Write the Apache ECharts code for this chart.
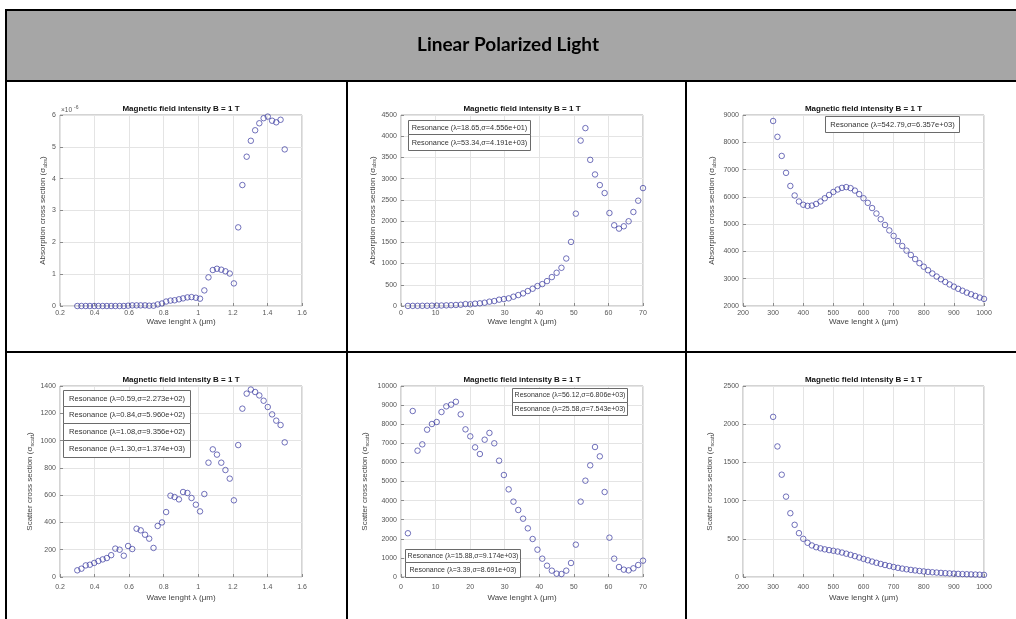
<!DOCTYPE html>
<html>
<head>
<meta charset="utf-8">
<script src="https://cdn.jsdelivr.net/npm/echarts@6/dist/echarts.min.js"></script>
<style>
  html, body { margin: 0; padding: 0; background: #fff; }
  #chart { width: 1016px; height: 619px; }
</style>
</head>
<body>
<div id="chart"></div>
<script>
// ---- wavelength grids ----
// near range, μm
const lambdaNear = [0.300,0.324,0.349,0.373,0.398,0.422,0.447,0.471,0.496,0.520,
  0.545,0.569,0.594,0.618,0.643,0.667,0.692,0.716,0.741,0.765,
  0.790,0.814,0.839,0.863,0.888,0.912,0.937,0.961,0.986,1.010,
  1.035,1.059,1.084,1.108,1.133,1.157,1.182,1.206,1.231,1.255,
  1.280,1.304,1.329,1.353,1.378,1.402,1.427,1.451,1.476,1.500];
// mid range, μm
const lambdaMid = [2.00,3.39,4.78,6.16,7.55,8.94,10.33,11.71,13.10,14.49,
  15.88,17.27,18.65,20.04,21.43,22.82,24.20,25.58,26.98,28.37,
  29.76,31.14,32.53,33.92,35.31,36.69,38.08,39.47,40.86,42.24,
  43.63,45.02,46.41,47.80,49.18,50.57,51.96,53.34,54.73,56.12,
  57.51,58.90,60.29,61.67,63.06,64.45,65.84,67.22,68.61,70.00];
// far range, μm
const lambdaFar = [300.00,314.29,328.57,342.86,357.14,371.43,385.71,400.00,414.29,428.57,
  442.86,457.14,471.43,485.71,500.00,514.29,528.57,542.79,557.14,571.43,
  585.71,600.00,614.29,628.57,642.86,657.14,671.43,685.71,700.00,714.29,
  728.57,742.86,757.14,771.43,785.71,800.00,814.29,828.57,842.86,857.14,
  871.43,885.71,900.00,914.29,928.57,942.86,957.14,971.43,985.71,1000.00];

// ---- absorption cross sections ----
// near range, in units of 1e-6
const absNear = [0.00,0.00,0.00,0.00,0.00,0.00,0.00,0.00,0.00,0.00,
  0.00,0.00,0.01,0.02,0.02,0.02,0.02,0.01,0.01,0.05,
  0.08,0.14,0.17,0.18,0.21,0.24,0.27,0.28,0.26,0.23,
  0.49,0.90,1.13,1.17,1.14,1.09,1.02,0.71,2.47,3.80,
  4.69,5.19,5.52,5.74,5.90,5.95,5.82,5.77,5.85,4.92];
const absMid = [2,3,4,5,6,8,10,12,15,19,
  24,30,45.56,40,55,63,78,102,117,149,
  164,180,219,258,297,352,407,470,516,587,
  681,783,900,1119,1510,2176,3897,4191,3443,3099,
  2849,2661,2191,1902,1823,1878,1996,2215,2481,2778];
const absFar = [8780,8200,7500,6880,6400,6050,5830,5710,5670,5680,
  5740,5830,5950,6070,6180,6270,6330,6357,6320,6230,
  6100,5950,5780,5590,5390,5180,4970,4770,4570,4380,
  4200,4030,3870,3720,3570,3440,3310,3190,3080,2980,
  2880,2790,2710,2630,2560,2490,2430,2370,2310,2260];

// ---- scattering cross sections ----
const scatNear = [49,61,85,90,103,117,129,139,160,208,
  200,156,227.3,205,354,342,310,281,213,374,
  400,476,596.0,586,569,623,616,579,530,481,
  608,838,935.6,897,838,784,721,562,967,1234,
  1344,1374,1356,1331,1292,1246,1192,1146,1114,987];
const scatMid = [2290,8691,6614,6945,7713,8010,8115,8638,8934,9022,
  9174,8516,7730,7364,6788,6439,7189,7543,7000,6090,
  5340,4589,3944,3508,3054,2548,1990,1431,960,593,
  332,175,157,332,733,1693,3944,5043,5846,6806,
  6317,4450,2059,960,523,384,349,454,628,855];
const scatFar = [2096,1709,1339,1052,835,683,574,500,448,413,
  390,375,362,352,343,333,320,305,290,273,
  255,237,219,202,186,171,157,144,131,120,
  110,101,93,86,79,73,67,62,58,54,
  50,47,44,41,38,36,34,32,30,28];

// indices of the resonances annotated on each panel (in box order)
const resAbsMid = [12, 37];
const resAbsFar = [17];
const resScatNear = [12, 22, 32, 41];
const resScatMidTop = [39, 17];
const resScatMidBottom = [10, 1];

// ---- axis ranges / ticks ----
const axNear = [0.2, 1.6, 0.2];
const axMid = [0, 70, 10];
const axFar = [200, 1000, 100];

// ---- helpers ----
function sci(v) {
  const e = Math.floor(Math.log10(Math.abs(v)));
  const m = (v / Math.pow(10, e)).toFixed(3);
  return m + 'e' + (e < 0 ? '-' : '+') + String(Math.abs(e)).padStart(2, '0');
}
function resText(xs, ys, i) {
  return 'Resonance (λ=' + xs[i].toFixed(2) + ',σ=' + sci(ys[i]) + ')';
}
function zip(xs, ys) { return xs.map((x, i) => [x, ys[i]]); }

const FONT = 'Liberation Sans, Arial, sans-serif';
const MARK = '#3a3aa0';

const panels = [
  { g: [60, 115, 242, 191], xs: lambdaNear, ys: absNear, xa: axNear, ya: [0, 6, 1], sub: 'abs', label: 'Absorption', ng: 11, row: 0 },
  { g: [401, 115, 242, 191], xs: lambdaMid, ys: absMid, xa: axMid, ya: [0, 4500, 500], sub: 'abs', label: 'Absorption', ng: 14, row: 0 },
  { g: [743, 115, 241, 191], xs: lambdaFar, ys: absFar, xa: axFar, ya: [2000, 9000, 1000], sub: 'abs', label: 'Absorption', ng: 26, row: 0 },
  { g: [60, 386, 242, 191], xs: lambdaNear, ys: scatNear, xa: axNear, ya: [0, 1400, 200], sub: 'scatt', label: 'Scatter', ng: 25, row: 1 },
  { g: [401, 386, 242, 191], xs: lambdaMid, ys: scatMid, xa: axMid, ya: [0, 10000, 1000], sub: 'scatt', label: 'Scatter', ng: 31, row: 1 },
  { g: [743, 386, 241, 191], xs: lambdaFar, ys: scatFar, xa: axFar, ya: [0, 2500, 500], sub: 'scatt', label: 'Scatter', ng: 28, row: 1 }
];

const grids = [], xAxes = [], yAxes = [], series = [], titles = [];
panels.forEach((p, k) => {
  const [l, t, w, h] = p.g;
  grids.push({ left: l, top: t, width: w, height: h, show: true, borderColor: '#a8a8a8', borderWidth: 1, backgroundColor: '#fff', containLabel: false });
  xAxes.push({
    type: 'value', gridIndex: k, min: p.xa[0], max: p.xa[1], interval: p.xa[2],
    axisLine: { show: false },
    axisTick: { show: true, inside: true, length: 3, lineStyle: { color: '#8a8a8a' } },
    axisLabel: { fontSize: 7, fontFamily: FONT, color: '#555', margin: p.row ? 7 : 4,
      formatter: v => String(+v.toFixed(2)) },
    splitLine: { show: true, lineStyle: { color: '#e4e4e4', width: 1 } },
    name: 'Wave lenght λ (μm)', nameLocation: 'middle', nameGap: p.row ? 17 : 12,
    nameTextStyle: { fontSize: 8, fontFamily: FONT, color: '#444' }
  });
  yAxes.push({
    type: 'value', gridIndex: k, min: p.ya[0], max: p.ya[1], interval: p.ya[2],
    axisLine: { show: false },
    axisTick: { show: true, inside: true, length: 3, lineStyle: { color: '#8a8a8a' } },
    axisLabel: { fontSize: 7, fontFamily: FONT, color: '#555', margin: 4,
      formatter: v => String(+v.toFixed(2)) },
    splitLine: { show: true, lineStyle: { color: '#e4e4e4', width: 1 } },
    name: '{m|' + p.label + ' cross section (σ}{s|' + p.sub + '}{m|)}',
    nameLocation: 'middle', nameRotate: 90, nameGap: p.ng,
    nameTextStyle: { fontFamily: FONT, color: '#444',
      rich: { m: { fontSize: 8, fontFamily: FONT, color: '#444', lineHeight: 10 },
              s: { fontSize: 5.5, fontFamily: FONT, color: '#444', lineHeight: 6, verticalAlign: 'bottom' } } }
  });
  series.push({
    type: 'scatter', xAxisIndex: k, yAxisIndex: k, data: zip(p.xs, p.ys),
    symbol: 'circle', symbolSize: 5.5, silent: true,
    itemStyle: { color: 'rgba(0,0,0,0)', borderColor: MARK, borderWidth: 0.9 }
  });
  titles.push({
    text: 'Magnetic field intensity B = 1 T', left: l + w / 2, top: t - 10, textAlign: 'center', padding: 0,
    textStyle: { fontSize: 8, fontWeight: 'bold', fontFamily: FONT, color: '#111' }
  });
});

// ---- table frame ----
const graphics = [];
function bar(x, y, w, h, fill) {
  graphics.push({ type: 'rect', shape: { x, y, width: w, height: h }, style: { fill }, silent: true, z: 0 });
}
bar(7, 11, 1009, 69, '#a6a6a6');       // header band
bar(5, 9, 1011, 2, '#000');            // top rule
bar(5, 9, 2, 610, '#000');             // left rule
bar(5, 80, 1011, 2, '#000');           // header bottom rule
bar(5, 351, 1011, 2, '#000');          // row divider
bar(346, 80, 2, 539, '#000');          // column divider 1
bar(685, 80, 2, 539, '#000');          // column divider 2
graphics.push({ type: 'text', x: 508, y: 45, silent: true, z: 1,
  style: { text: 'Linear Polarized Light', fontSize: 19, fontWeight: 'bold', fontFamily: 'Lato, Open Sans, sans-serif',
    fill: '#000', align: 'center', verticalAlign: 'middle' } });

// exponent marker for the first panel
graphics.push({ type: 'text', x: 61, y: 110, silent: true, z: 5,
  style: { text: '×10', fontSize: 6.5, fontFamily: FONT, fill: '#555', align: 'left', verticalAlign: 'middle' } });
graphics.push({ type: 'text', x: 74, y: 107.5, silent: true, z: 5,
  style: { text: '-6', fontSize: 5, fontFamily: FONT, fill: '#555', align: 'left', verticalAlign: 'middle' } });

// ---- resonance boxes ----
function box(x, y, w, h, text, fs) {
  graphics.push({ type: 'rect', z: 50, silent: true, shape: { x: x + 0.5, y: y + 0.5, width: w, height: h },
    style: { fill: '#fff', stroke: '#6a6a6a', lineWidth: 1 } });
  graphics.push({ type: 'text', z: 51, silent: true, x: x + w / 2 + 0.5, y: y + h / 2 + 0.5,
    style: { text, fontSize: fs, fontFamily: FONT, fill: '#333', align: 'center', verticalAlign: 'middle' } });
}
box(408, 120, 122, 14, resText(lambdaMid, absMid, resAbsMid[0]), 7.3);
box(408, 134, 122, 16, resText(lambdaMid, absMid, resAbsMid[1]), 7.3);
box(825, 116, 134, 16, resText(lambdaFar, absFar, resAbsFar[0]), 7.6);
[390, 406, 423, 440].forEach((y, j) => box(63, y, 127, y === 390 ? 16 : 17, resText(lambdaNear, scatNear, resScatNear[j]), 7.6));
box(512, 388, 115, 14, resText(lambdaMid, scatMid, resScatMidTop[0]), 7);
box(512, 402, 115, 13, resText(lambdaMid, scatMid, resScatMidTop[1]), 7);
box(405, 549, 115, 13, resText(lambdaMid, scatMid, resScatMidBottom[0]), 7);
box(405, 562, 115, 15, resText(lambdaMid, scatMid, resScatMidBottom[1]), 7);

const chart = echarts.init(document.getElementById('chart'), null, { renderer: 'canvas' });
chart.setOption({
  animation: false,
  backgroundColor: '#fff',
  title: titles,
  grid: grids,
  xAxis: xAxes,
  yAxis: yAxes,
  series: series,
  graphic: { elements: graphics }
});
</script>
</body>
</html>
